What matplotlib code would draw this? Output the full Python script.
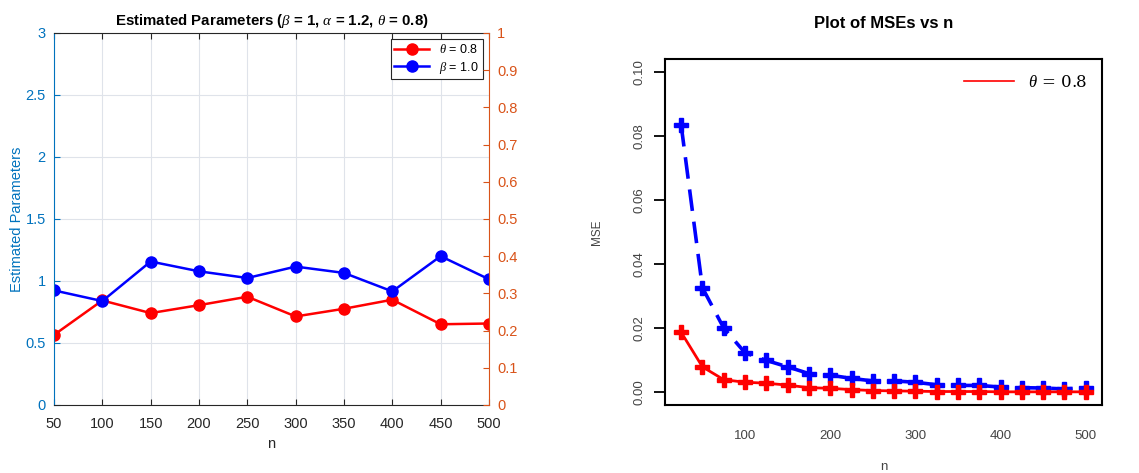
import numpy as np
import matplotlib.pyplot as plt

plt.rcParams['font.family'] = ['Liberation Sans', 'DejaVu Sans']
plt.rcParams['mathtext.fontset'] = 'custom'
plt.rcParams['mathtext.it'] = 'Liberation Serif:italic'
plt.rcParams['mathtext.rm'] = 'Liberation Sans'

# Left panel: estimated parameters vs n
n_est = [50, 100, 150, 200, 250, 300, 350, 400, 450, 500]
theta_est = [0.565, 0.843, 0.741, 0.805, 0.873, 0.714, 0.776, 0.849, 0.651, 0.657]
beta_est = [0.924, 0.838, 1.157, 1.078, 1.024, 1.116, 1.065, 0.916, 1.200, 1.014]

# Right panel: MSEs vs n
n_mse = [25, 50, 75, 100, 125, 150, 175, 200, 225, 250,
         275, 300, 325, 350, 375, 400, 425, 450, 475, 500]
mse_beta = [0.0834, 0.0326, 0.0200, 0.0123, 0.0099, 0.0079, 0.0058, 0.0053, 0.0043, 0.0035,
            0.0035, 0.0031, 0.0023, 0.0021, 0.0021, 0.0016, 0.0014, 0.0013, 0.0010, 0.0014]
mse_theta = [0.0187, 0.0079, 0.0039, 0.0031, 0.0028, 0.0022, 0.0014, 0.0012, 0.0008, 0.0005,
             0.0004, 0.0003, 0.0002, 0.0002, 0.0002, 0.0001, 0.0001, 0.0001, 0.0001, 0.0001]

mblue = '#0072BD'
morange = '#D95319'

fig = plt.figure(figsize=(11.39, 4.73), dpi=100)

# ---- left (MATLAB style) ----
ax1 = fig.add_axes([0.0474, 0.1438, 0.3819, 0.7865])
ax1.plot(n_est, theta_est, '-o', color='red', lw=1.8, ms=8, label=r'$\theta$ = 0.8')
ax1.plot(n_est, beta_est, '-o', color='blue', lw=1.8, ms=8, label=r'$\beta$ = 1.0')
ax1.set_xlim(50, 500)
ax1.set_ylim(0, 3)
ax1.set_xticks(n_est)
ax1.set_yticks([0, 0.5, 1, 1.5, 2, 2.5, 3])
ax1.set_yticklabels(['0', '0.5', '1', '1.5', '2', '2.5', '3'])
ax1.grid(True, color='#dfe3ea', lw=0.8)
ax1.set_axisbelow(True)
ax1.tick_params(axis='x', direction='in', top=True, colors='#262626', labelsize=10.5,
                length=4, pad=9)
ax1.tick_params(axis='y', direction='in', colors=mblue, labelsize=10.5, length=4, pad=6)
ax1.spines['left'].set_color(mblue)
ax1.spines['bottom'].set_color('#262626')
ax1.spines['top'].set_color('#262626')
ax1.spines['right'].set_visible(False)
ax1.set_xlabel('n', fontsize=10.5, color='#262626', labelpad=4)
ax1.set_ylabel('Estimated Parameters', fontsize=10.5, color=mblue, labelpad=1)
ax1.set_title(r'Estimated Parameters ($\beta$ = 1, $\alpha$ = 1.2, $\theta$ = 0.8)',
              fontsize=10.8, fontweight='bold', pad=6)
leg = ax1.legend(loc='upper right', fontsize=9, fancybox=False, framealpha=1,
                 edgecolor='#262626', handlelength=2.8, borderpad=0.3, labelspacing=0.3)
leg.get_frame().set_linewidth(0.8)

ax1r = ax1.twinx()
ax1r.set_ylim(0, 1)
ax1r.set_yticks(np.arange(0, 1.01, 0.1))
ax1r.set_yticklabels(['0', '0.1', '0.2', '0.3', '0.4', '0.5', '0.6', '0.7', '0.8', '0.9', '1'])
ax1r.tick_params(axis='y', direction='in', colors=morange, labelsize=10.5, length=4, pad=6)
ax1r.spines['right'].set_color(morange)
for s in ['left', 'top', 'bottom']:
    ax1r.spines[s].set_visible(False)

# ---- right (R style) ----
ax2 = fig.add_axes([0.5838, 0.1438, 0.3837, 0.7315])
ax2.plot(n_mse, mse_beta, color='blue', lw=2.6, ls=(0, (6, 3)), marker='P', ms=10,
         label='_nolegend_')
ax2.plot(n_mse, mse_theta, color='red', lw=2, marker='P', ms=10, label='_nolegend_')
ax2.plot([], [], color='red', lw=1.2, label=r'$\theta$ = 0.8')
ax2.set_xlim(6, 519)
ax2.set_ylim(-0.004, 0.104)
ax2.set_xticks([100, 200, 300, 400, 500])
ax2.set_yticks([0, 0.02, 0.04, 0.06, 0.08, 0.10])
ax2.set_yticklabels(['0.00', '0.02', '0.04', '0.06', '0.08', '0.10'], rotation=90, va='center')
ax2.tick_params(axis='x', length=0, pad=18, labelsize=9.5, colors='#444444')
ax2.tick_params(axis='y', length=8, width=1.3, pad=6, labelsize=9.5, labelcolor='#444444')
for s in ax2.spines.values():
    s.set_linewidth(1.5)
ax2.set_ylabel('MSE', fontsize=8.5, color='#444444', labelpad=22)
ax2.set_xlabel('n', fontsize=9.5, color='#444444', labelpad=14)
ax2.set_title('Plot of MSEs vs n', fontsize=12, fontweight='bold', pad=22)
ax2.legend(loc='upper right', frameon=False, handlelength=3,
           prop={'family': 'DejaVu Serif', 'size': 12})

fig.savefig('out.png', dpi=100)
